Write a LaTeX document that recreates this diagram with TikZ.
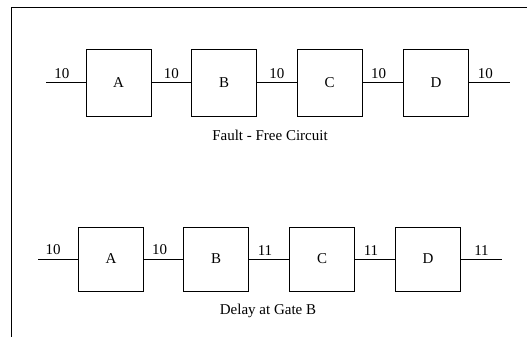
\documentclass[tikz,border=0pt]{standalone}
\usepackage{fontspec}
\setmainfont{Liberation Serif}
\begin{document}
\begin{tikzpicture}[x=1pt,y=-1pt,
  font=\fontsize{15}{18}\selectfont,
  gate/.style={draw, line width=0.9pt, minimum width=65pt, inner sep=0pt},
  gatetop/.style={gate, minimum height=67pt},
  gatebot/.style={gate, minimum height=64pt},
  wiretop/.style={line width=1.4pt},
  wirebot/.style={line width=0.8pt},
  lbl/.style={above=3.5pt, inner sep=0pt},
  frame/.style={line width=0.9pt}]
\useasboundingbox (0,0) rectangle (527,337);
% outer frame (top and left edges)
\draw[frame] (527,7) -- (11,7) -- (11,337);

% fault-free chain
\node[gatetop] (A1) at (118.5,82.5) {A};
\node[gatetop] (B1) at (224,82.5) {B};
\node[gatetop] (C1) at (329.5,82.5) {C};
\node[gatetop] (D1) at (436,82.5) {D};
\coordinate (in1) at (46,82.5);
\coordinate (out1) at (510,82.5);
\draw[wiretop] (in1) -- node[lbl, pos=0.4]{10} (A1);
\draw[wiretop] (A1) -- node[lbl]{10} (B1);
\draw[wiretop] (B1) -- node[lbl]{10} (C1);
\draw[wiretop] (C1) -- node[lbl, pos=0.4]{10} (D1);
\draw[wiretop] (D1) -- node[lbl, pos=0.4]{10} (out1);
\node[anchor=base] (cap1) at (270,140) {Fault - Free Circuit};

% chain with a delay at gate B
\node[gatebot] (A2) at (111,259) {A};
\node[gatebot] (B2) at (216,259) {B};
\node[gatebot] (C2) at (322,259) {C};
\node[gatebot] (D2) at (428,259) {D};
\coordinate (in2) at (38,259);
\coordinate (out2) at (502,259);
\draw[wirebot] (in2) -- node[lbl, pos=0.38]{10} (A2);
\draw[wirebot] (A2) -- node[lbl, pos=0.4]{10} (B2);
\draw[wirebot] (B2) -- node[lbl, pos=0.4]{11} (C2);
\draw[wirebot] (C2) -- node[lbl, pos=0.4]{11} (D2);
\draw[wirebot] (D2) -- node[lbl, pos=0.5]{11} (out2);
\node[anchor=base] (cap2) at (268,314) {Delay at Gate B};
\end{tikzpicture}
\end{document}
